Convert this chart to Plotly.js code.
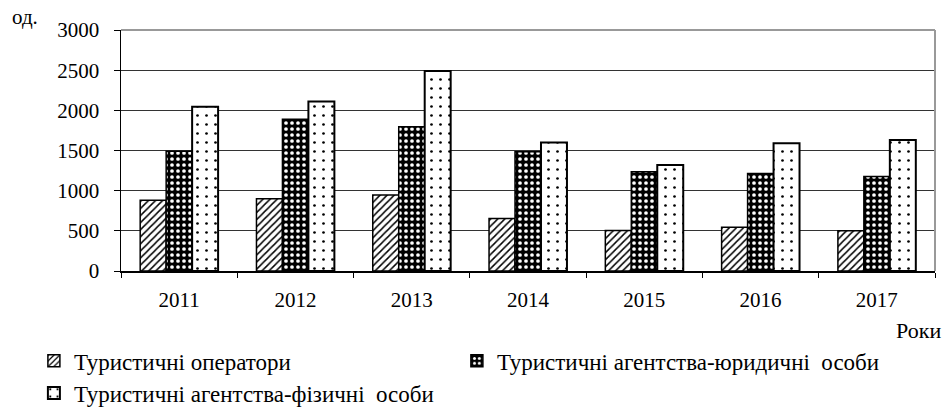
<!DOCTYPE html>
<html>
<head>
<meta charset="utf-8">
<script src="https://cdn.plot.ly/plotly-3.0.1.min.js"></script>
<style>html,body{margin:0;padding:0;background:#fff;}#chart{width:944px;height:415px;}</style>
</head>
<body>
<div id="chart"></div>
<script>
var years = ['2011', '2012', '2013', '2014', '2015', '2016', '2017'];
var seriesNames = ['Туристичні оператори', 'Туристичні агентства-юридичні  особи', 'Туристичні агентства-фізичні  особи'];
var operators = [880, 900, 945, 655, 505, 545, 500];
var agentsLegal = [1490, 1890, 1795, 1485, 1235, 1215, 1175];
var agentsPhysical = [2045, 2110, 2490, 1600, 1320, 1590, 1630];
var yTicks = [0, 500, 1000, 1500, 2000, 2500, 3000];

var FONT = 'Liberation Serif';

var traces = [
  {
    type: 'bar', name: seriesNames[0], x: years, y: operators, legend: 'legend',
    marker: {color: 'white', line: {color: 'black', width: 1.5},
      pattern: {shape: '/', fgcolor: 'black', bgcolor: 'white', size: 5, solidity: 0.3}}
  },
  {
    type: 'bar', name: seriesNames[1], x: years, y: agentsLegal, legend: 'legend',
    marker: {color: 'black', line: {color: 'black', width: 1.5},
      pattern: {shape: '.', fgcolor: 'white', bgcolor: 'black', size: 6, solidity: 0.3}}
  },
  {
    type: 'bar', name: seriesNames[2], x: years, y: agentsPhysical, legend: 'legend2',
    marker: {color: 'white', line: {color: 'black', width: 2},
      pattern: {shape: '.', fgcolor: 'black', bgcolor: 'white', size: 9, solidity: 0.07}}
  }
];

var legendCommon = {
  orientation: 'h', xanchor: 'left', yanchor: 'middle',
  font: {family: FONT, size: 23, color: 'black'},
  itemwidth: 30, traceorder: 'normal', bgcolor: 'rgba(0,0,0,0)'
};

var layout = {
  width: 944, height: 415,
  margin: {l: 121, r: 9, t: 30, b: 144, autoexpand: false},
  paper_bgcolor: 'white', plot_bgcolor: 'white',
  font: {family: FONT, size: 21, color: 'black'},
  barmode: 'group', bargap: 0.33, bargroupgap: 0,
  showlegend: true,
  legend: Object.assign({}, legendCommon, {x: -0.107, y: -0.373, entrywidth: 378}),
  legend2: Object.assign({}, legendCommon, {x: -0.107, y: -0.506}),
  xaxis: {
    type: 'category', tickson: 'boundaries', ticks: 'outside', ticklen: 5,
    tickcolor: 'black', showline: true, linecolor: 'black', linewidth: 1.5,
    showgrid: false, tickfont: {family: FONT, size: 21}, ticklabelstandoff: 9,
    fixedrange: true, automargin: false
  },
  yaxis: {
    range: [0, 3000], tickvals: yTicks, ticktext: yTicks.map(String),
    ticks: 'outside', ticklen: 6, tickcolor: 'black',
    showline: true, linecolor: 'black', linewidth: 1.5,
    showgrid: true, gridcolor: '#333', gridwidth: 1, zeroline: false,
    tickfont: {family: FONT, size: 21}, ticklabelstandoff: 10,
    fixedrange: true, automargin: false
  },
  shapes: [
    {type: 'line', xref: 'paper', yref: 'paper', x0: 0, x1: 1, y0: 1, y1: 1, line: {color: '#999', width: 2}},
    {type: 'line', xref: 'paper', yref: 'paper', x0: 1, x1: 1, y0: 0, y1: 1, line: {color: '#999', width: 2}}
  ],
  annotations: [
    {text: 'од.', xref: 'paper', yref: 'paper', x: -0.1365, y: 1.054, xanchor: 'left', yanchor: 'middle', showarrow: false, font: {family: FONT, size: 21}},
    {text: 'Роки', xref: 'paper', yref: 'paper', x: 1.0098, y: -0.245, xanchor: 'right', yanchor: 'middle', showarrow: false, font: {family: FONT, size: 22}}
  ]
};

Plotly.newPlot('chart', traces, layout, {displayModeBar: false, staticPlot: true});
</script>
</body>
</html>
